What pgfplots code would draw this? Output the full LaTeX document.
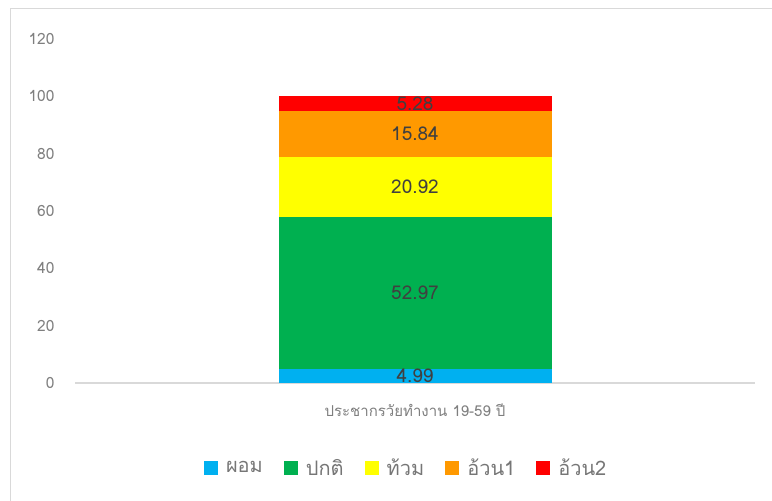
\documentclass[border=0pt]{standalone}
\usepackage{fontspec}
\setmainfont[Script=Thai]{Loma}
\usepackage{pgfplots}
\pgfplotsset{compat=1.18}
\definecolor{cBlue}{HTML}{00B0F0}
\definecolor{cGreen}{HTML}{00B050}
\definecolor{cYellow}{HTML}{FFFF00}
\definecolor{cOrange}{HTML}{FF9900}
\definecolor{cRed}{HTML}{FF0000}
\definecolor{lineGray}{HTML}{D9D9D9}
\definecolor{tickGray}{HTML}{7F7F7F}
\definecolor{labelGray}{HTML}{404040}
\definecolor{legGray}{HTML}{767676}
\begin{document}
\begin{tikzpicture}
\useasboundingbox (0bp,0bp) rectangle (772bp,501bp);
\draw[color=lineGray, line width=1.5bp] (10.5bp,0bp) -- (10.5bp,492.5bp) -- (772bp,492.5bp);
\begin{axis}[
  at={(75bp,118bp)}, anchor=south west,
  scale only axis, width=680bp, height=344bp,
  ymin=0, ymax=120, xmin=-0.5, xmax=0.5,
  ybar stacked, bar width=273bp,
  axis lines*=left,
  y axis line style={draw=none},
  x axis line style={draw=lineGray, line width=1.2bp, -},
  major tick length=0pt,
  ytick={0,20,40,60,80,100,120},
  xtick={0},
  xticklabels={ประชากรวัยทำงาน 19-59 ปี},
  /pgf/number format/assume math mode=true,
  yticklabel style={font=\fontsize{15.5bp}{18bp}\selectfont, text=tickGray, xshift=-17bp},
  xticklabel style={font=\fontsize{15bp}{18bp}\selectfont, text=tickGray, anchor=center, yshift=-27bp},
  nodes near coords,
  point meta=explicit symbolic,
  every node near coord/.append style={anchor=center, font=\fontsize{19bp}{22bp}\selectfont, text=labelGray},
  legend columns=5,
  legend style={at={(axis description cs:0.487,-0.247)}, anchor=center, draw=none, fill=none,
    font=\fontsize{20bp}{23bp}\selectfont, text=legGray,
    /tikz/every odd column/.append style={column sep=6bp},
    /tikz/every even column/.append style={column sep=19bp}},
  legend image code/.code={\fill[#1] (0bp,-7bp) rectangle (14bp,7bp);},
]
\addplot[fill=cBlue, draw=none] coordinates {(0,4.99) [4.99]};
\addplot[fill=cGreen, draw=none] coordinates {(0,52.97) [52.97]};
\addplot[fill=cYellow, draw=none] coordinates {(0,20.92) [20.92]};
\addplot[fill=cOrange, draw=none] coordinates {(0,15.84) [15.84]};
\addplot[fill=cRed, draw=none] coordinates {(0,5.28) [5.28]};
\legend{ผอม, ปกติ, ท้วม, อ้วน1, อ้วน2}
\end{axis}
\end{tikzpicture}
\end{document}
